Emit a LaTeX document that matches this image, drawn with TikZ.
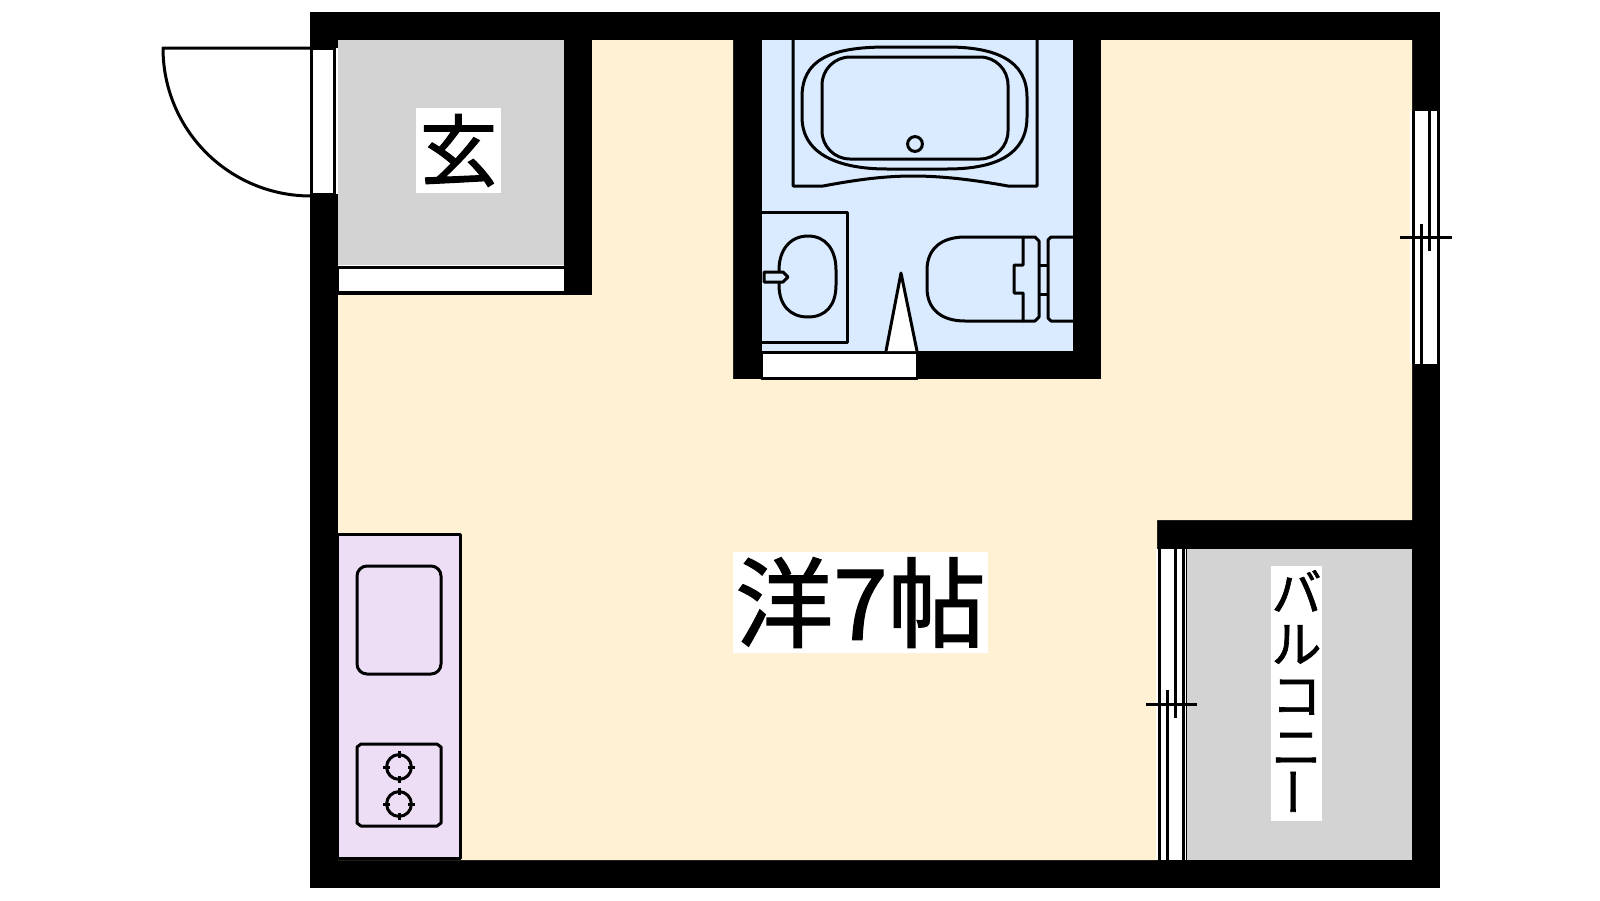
\documentclass[tikz,border=0pt]{standalone}
\usepackage{fontspec}
\usepackage{graphicx}
\usepackage{xcolor}
\setmainfont{Noto Sans CJK JP}[FakeBold=1.3]
\definecolor{roomcream}{HTML}{FEF1D4}
\definecolor{floorgray}{HTML}{D3D3D3}
\definecolor{bathblue}{HTML}{DAEBFF}
\definecolor{kitchenlilac}{HTML}{EDDEF5}
\begin{document}
\begin{tikzpicture}[
x=0.5pt,y=-0.5pt,
fixture/.style={draw=black,line width=1.5pt,line join=round},
sashline/.style={draw=black,line width=1.5pt},
roomlabel/.style={fill=white,inner sep=0pt,align=center}]
    \useasboundingbox (0,0) rectangle (1600,900);
    \fill[white] (0,0) rectangle (1600,900);

    % Draw walls and floors
    \fill[black] (310,12) rectangle (1440,888);
    \fill[roomcream] (592,40) -- (733,40) -- (733,379) -- (1101,379) -- (1101,40)
        -- (1412,40) -- (1412,520) -- (1157,520) -- (1157,860) -- (338,860)
        -- (338,295) -- (592,295) -- cycle;
    \fill[floorgray] (338,40) rectangle (564,265);
    \fill[floorgray] (1187,549) rectangle (1412,860);
    \fill[bathblue] (762,40) rectangle (1073,351);

    % Entrance door and step
    \draw[fixture,fill=white] (311.5,48) rectangle (334.5,194);
    \fill[white] (335.5,48) rectangle (338,194);
    \draw[fixture] (311,48) -- (163,48) .. controls (163,130) and (229,196) .. (311,196);
    \fill[white] (338,265) rectangle (564,294);
    \draw[fixture,fill=white] (337,267.5) rectangle (565,292.5);

    % Bath
    \draw[fixture] (793,40) -- (793,186) -- (823,186) .. controls (850,181) and (880,176) .. (913,176)
        .. controls (946,176) and (980,181) .. (1008,186) -- (1037,186) -- (1037,40);
    \draw[fixture] (887,47) .. controls (830,47) and (802,60) .. (802,97) -- (802,117)
        .. controls (802,155) and (840,169) .. (887,169) -- (947,169)
        .. controls (995,169) and (1027,155) .. (1027,117) -- (1027,97)
        .. controls (1027,60) and (995,47) .. (947,47) -- cycle;
    \draw[fixture,rounded corners=14pt] (822,57) rectangle (1008,159);
    \draw[fixture] (915,144) circle (3.7pt);

    % Basin
    \draw[fixture] (762,212) -- (847,212) -- (847,342) -- (762,342);
    \draw[fixture] (808,236) .. controls (790,236) and (779,250) .. (779,270) -- (779,285)
        .. controls (779,305) and (790,317) .. (808,317) .. controls (826,317) and (836,305) .. (836,285)
        -- (836,270) .. controls (836,250) and (826,236) .. (808,236) -- cycle;
    \draw[fixture,fill=bathblue] (764,272) -- (783,272) -- (788,277) -- (783,282) -- (764,282) -- cycle;

    % Toilet
    \draw[fixture] (1023,237) -- (965,237) .. controls (940,237) and (927,250) .. (927,270) -- (927,288)
        .. controls (927,308) and (940,321) .. (965,321) -- (1023,321) -- (1023,293) -- (1014,293)
        -- (1014,265) -- (1023,265) -- cycle;
    \draw[fixture] (1023,237) -- (1035,237) -- (1039,241) -- (1039,317) -- (1035,321) -- (1023,321);
    \draw[fixture] (1039,265) -- (1048,265);
    \draw[fixture] (1039,294) -- (1048,294);
    \draw[fixture] (1073,237) -- (1051,237) -- (1048,240) -- (1048,318) -- (1051,321) -- (1073,321);

    % Bathroom door
    \draw[fixture,fill=white] (761,352) rectangle (917,378);
    \draw[fixture,fill=white] (886,351) -- (901,273) -- (917,351);

    % Kitchen
    \draw[fixture,fill=kitchenlilac] (337.5,534) rectangle (460.5,858);
    \draw[fixture,rounded corners=5pt] (357,566) rectangle (441,674);
    \draw[fixture] (361,744) -- (437,744) -- (441,747) -- (441,823) -- (437,826) -- (361,826)
        -- (357,823) -- (357,747) -- cycle;
    \draw[fixture] (399,767) circle (6.2pt);
    \draw[fixture] (399,751) -- (399,758) (399,776) -- (399,783) (383,767) -- (390,767) (408,767) -- (415,767);
    \draw[fixture] (399,804) circle (6.2pt);
    \draw[fixture] (399,788) -- (399,795) (399,813) -- (399,820) (383,804) -- (390,804) (408,804) -- (415,804);

    % Window to the balcony
    \fill[white] (1156,549) rectangle (1186,860);
    \draw[sashline] (1159,549) -- (1159,860);
    \draw[sashline] (1167,690) -- (1167,860);
    \draw[sashline] (1175,549) -- (1175,718);
    \draw[sashline] (1183,549) -- (1183,860);
    \draw[sashline] (1146,704) -- (1197,704);

    % Window on the right wall
    \fill[white] (1410,111) rectangle (1439,364);
    \draw[sashline] (1413,111) -- (1413,364);
    \draw[sashline] (1421,224) -- (1421,364);
    \draw[sashline] (1429,111) -- (1429,251);
    \draw[sashline] (1438,111) -- (1438,364);
    \draw[sashline] (1400,237) -- (1452,237);

    % Room names
    \node (hall) [roomlabel,minimum width=42.5pt,minimum height=42.5pt,font=\fontsize{39}{39}\selectfont] at (458.5,150.5) {玄};
    \node (room) [roomlabel,minimum width=127.5pt,minimum height=50.5pt,font=\fontsize{49}{49}\selectfont] at (860.5,602.5) {洋7帖};
    \node (balcony) [roomlabel,minimum width=25.5pt,minimum height=127.5pt,font=\fontsize{25}{25.7}\selectfont] at (1296.5,693.5)
        {バ\\ル\\コ\\ニ\\\hspace*{5pt}\rotatebox{90}{ー}};
\end{tikzpicture}
\end{document}
